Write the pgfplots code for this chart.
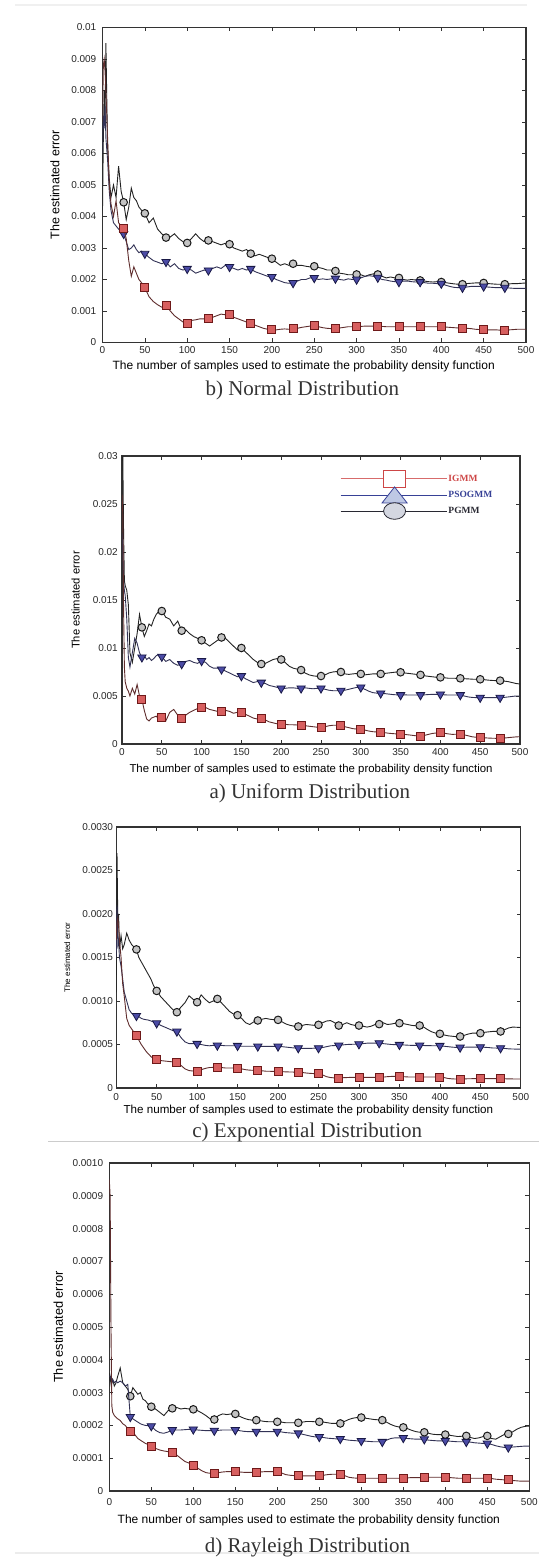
\documentclass[border=0pt]{standalone}
\usepackage{pgfplots}
\pgfplotsset{compat=1.18}
\usepackage{pgfplotstable}
\usepackage{fontspec}
\setmainfont{Liberation Serif}
\setsansfont{Liberation Sans}

\definecolor{igline}{RGB}{95,45,45}
\definecolor{igfill}{RGB}{215,95,95}
\definecolor{igedge}{RGB}{110,25,25}
\definecolor{psoline}{RGB}{50,50,85}
\definecolor{psofill}{RGB}{75,75,165}
\definecolor{psoedge}{RGB}{25,25,70}
\definecolor{pgline}{RGB}{35,35,35}
\definecolor{pgfill}{RGB}{195,195,195}
\definecolor{pgedge}{RGB}{25,25,25}
\definecolor{lgred}{RGB}{205,70,70}
\definecolor{lgblue}{RGB}{55,65,150}
\definecolor{lgblack}{RGB}{40,40,50}

\pgfplotstableread{
x pg pso ig
0 4.2e-3 6.0e-3 7.0e-3
1 6.5e-3 7.2e-3 8.8e-3
2 8.0e-3 6.8e-3 9.0e-3
3 7.0e-3 7.5e-3 8.6e-3
4 9.5e-3 6.5e-3 8.0e-3
6 6.2e-3 5.8e-3 6.5e-3
8 5.2e-3 4.8e-3 5.0e-3
10 4.6e-3 4.2e-3 4.4e-3
13 5.0e-3 3.8e-3 4.0e-3
16 4.6e-3 3.7e-3 4.5e-3
19 5.6e-3 3.6e-3 3.8e-3
22 4.8e-3 3.5e-3 3.7e-3
25 4.45e-3 3.45e-3 3.63e-3
28 3.9e-3 3.2e-3 3.3e-3
31 4.3e-3 2.95e-3 2.6e-3
34 4.9e-3 3.0e-3 2.1e-3
37 4.6e-3 3.1e-3 2.4e-3
40 4.5e-3 2.95e-3 2.2e-3
43 4.3e-3 2.85e-3 2.0e-3
46 4.2e-3 2.9e-3 1.9e-3
50 4.1e-3 2.82e-3 1.74e-3
55 3.8e-3 2.7e-3 1.45e-3
60 3.95e-3 2.6e-3 1.3e-3
65 3.6e-3 2.55e-3 1.2e-3
70 3.45e-3 2.5e-3 1.12e-3
75 3.33e-3 2.56e-3 1.18e-3
80 3.35e-3 2.4e-3 1.0e-3
85 3.45e-3 2.5e-3 0.85e-3
90 3.3e-3 2.35e-3 0.75e-3
95 3.2e-3 2.3e-3 0.65e-3
100 3.16e-3 2.34e-3 0.62e-3
105 3.3e-3 2.3e-3 0.7e-3
110 3.45e-3 2.2e-3 0.72e-3
115 3.3e-3 2.25e-3 0.75e-3
120 3.2e-3 2.3e-3 0.75e-3
125 3.24e-3 2.29e-3 0.76e-3
130 3.2e-3 2.35e-3 0.8e-3
135 3.15e-3 2.4e-3 0.85e-3
140 3.1e-3 2.35e-3 0.9e-3
145 3.15e-3 2.45e-3 0.88e-3
150 3.12e-3 2.40e-3 0.89e-3
155 3.0e-3 2.35e-3 0.8e-3
160 2.95e-3 2.3e-3 0.75e-3
165 2.9e-3 2.35e-3 0.7e-3
170 2.95e-3 2.3e-3 0.65e-3
175 2.82e-3 2.34e-3 0.62e-3
180 2.75e-3 2.25e-3 0.55e-3
185 2.8e-3 2.2e-3 0.5e-3
190 2.75e-3 2.15e-3 0.45e-3
195 2.7e-3 2.1e-3 0.42e-3
200 2.66e-3 2.08e-3 0.41e-3
205 2.55e-3 2.0e-3 0.4e-3
210 2.45e-3 1.95e-3 0.42e-3
215 2.5e-3 1.9e-3 0.43e-3
220 2.45e-3 1.88e-3 0.42e-3
225 2.50e-3 1.89e-3 0.44e-3
230 2.45e-3 1.95e-3 0.45e-3
235 2.45e-3 2.0e-3 0.48e-3
240 2.42e-3 2.0e-3 0.5e-3
245 2.4e-3 2.05e-3 0.52e-3
250 2.42e-3 2.05e-3 0.55e-3
255 2.38e-3 2.0e-3 0.5e-3
260 2.35e-3 2.02e-3 0.47e-3
265 2.3e-3 2.0e-3 0.45e-3
270 2.3e-3 2.02e-3 0.44e-3
275 2.27e-3 2.03e-3 0.44e-3
280 2.2e-3 2.0e-3 0.46e-3
285 2.18e-3 1.98e-3 0.48e-3
290 2.15e-3 2.02e-3 0.5e-3
295 2.15e-3 2.0e-3 0.5e-3
300 2.16e-3 2.0e-3 0.50e-3
305 2.15e-3 2.05e-3 0.51e-3
310 2.1e-3 2.1e-3 0.52e-3
315 2.15e-3 2.12e-3 0.52e-3
320 2.18e-3 2.1e-3 0.52e-3
325 2.16e-3 2.06e-3 0.52e-3
330 2.1e-3 2.0e-3 0.51e-3
335 2.05e-3 1.98e-3 0.5e-3
340 2.08e-3 1.95e-3 0.5e-3
345 2.05e-3 1.93e-3 0.5e-3
350 2.05e-3 1.92e-3 0.50e-3
355 2.0e-3 1.95e-3 0.5e-3
360 1.98e-3 1.95e-3 0.5e-3
365 2.0e-3 1.93e-3 0.5e-3
370 1.98e-3 1.92e-3 0.5e-3
375 1.97e-3 1.92e-3 0.50e-3
380 1.95e-3 1.9e-3 0.5e-3
385 1.93e-3 1.88e-3 0.5e-3
390 1.92e-3 1.88e-3 0.5e-3
395 1.93e-3 1.87e-3 0.5e-3
400 1.92e-3 1.87e-3 0.50e-3
405 1.9e-3 1.82e-3 0.49e-3
410 1.88e-3 1.78e-3 0.48e-3
415 1.86e-3 1.75e-3 0.47e-3
420 1.85e-3 1.74e-3 0.46e-3
425 1.85e-3 1.74e-3 0.46e-3
430 1.87e-3 1.76e-3 0.45e-3
435 1.88e-3 1.78e-3 0.44e-3
440 1.89e-3 1.78e-3 0.42e-3
445 1.89e-3 1.78e-3 0.41e-3
450 1.89e-3 1.78e-3 0.41e-3
455 1.87e-3 1.76e-3 0.4e-3
460 1.86e-3 1.75e-3 0.4e-3
465 1.85e-3 1.74e-3 0.4e-3
470 1.85e-3 1.74e-3 0.39e-3
475 1.85e-3 1.74e-3 0.39e-3
480 1.86e-3 1.73e-3 0.4e-3
485 1.87e-3 1.72e-3 0.41e-3
490 1.87e-3 1.72e-3 0.42e-3
495 1.88e-3 1.72e-3 0.42e-3
500 1.89e-3 1.72e-3 0.42e-3
}\tNormal

\pgfplotstableread{
x pg pso ig
0 29.5e-3 22.0e-3 26.0e-3
1 30.0e-3 20.0e-3 24.0e-3
2 22.0e-3 17.0e-3 14.0e-3
3 17.0e-3 16.0e-3 8.0e-3
4 16.5e-3 15.5e-3 6.5e-3
6 16.0e-3 13.0e-3 5.8e-3
8 14.5e-3 9.0e-3 5.5e-3
10 9.5e-3 8.0e-3 5.0e-3
13 8.5e-3 9.5e-3 5.8e-3
16 10.0e-3 11.0e-3 5.2e-3
19 11.5e-3 10.5e-3 6.2e-3
22 13.5e-3 9.5e-3 5.0e-3
25 12.15e-3 9.03e-3 4.65e-3
28 11.2e-3 9.2e-3 3.5e-3
31 11.8e-3 8.8e-3 2.6e-3
34 12.5e-3 9.0e-3 2.4e-3
37 12.3e-3 8.7e-3 2.7e-3
40 13.0e-3 8.9e-3 2.8e-3
43 13.5e-3 9.2e-3 2.9e-3
46 13.8e-3 9.3e-3 2.6e-3
50 13.85e-3 9.1e-3 2.78e-3
55 13.2e-3 8.6e-3 2.4e-3
60 13.0e-3 8.8e-3 3.3e-3
65 12.3e-3 8.4e-3 3.6e-3
70 12.8e-3 8.2e-3 3.0e-3
75 11.8e-3 8.33e-3 2.67e-3
80 11.9e-3 8.6e-3 3.0e-3
85 11.5e-3 8.7e-3 3.3e-3
90 11.2e-3 8.5e-3 3.5e-3
95 11.0e-3 8.4e-3 3.7e-3
100 10.8e-3 8.65e-3 3.82e-3
105 10.5e-3 8.5e-3 3.8e-3
110 10.2e-3 8.1e-3 3.6e-3
115 10.5e-3 7.9e-3 3.5e-3
120 10.8e-3 7.9e-3 3.4e-3
125 11.1e-3 7.78e-3 3.44e-3
130 11.0e-3 7.6e-3 3.5e-3
135 10.6e-3 7.4e-3 3.4e-3
140 10.2e-3 7.2e-3 3.2e-3
145 9.8e-3 7.0e-3 3.3e-3
150 10.0e-3 7.08e-3 3.26e-3
155 9.6e-3 6.8e-3 3.1e-3
160 9.2e-3 6.6e-3 2.9e-3
165 8.8e-3 6.4e-3 2.7e-3
170 8.5e-3 6.5e-3 2.6e-3
175 8.33e-3 6.4e-3 2.67e-3
180 8.4e-3 6.3e-3 2.5e-3
185 8.6e-3 6.1e-3 2.3e-3
190 8.8e-3 6.0e-3 2.2e-3
195 8.9e-3 5.9e-3 2.1e-3
200 8.8e-3 5.8e-3 2.08e-3
205 8.5e-3 5.8e-3 2.05e-3
210 8.1e-3 5.85e-3 2.0e-3
215 7.9e-3 5.85e-3 2.0e-3
220 7.8e-3 5.8e-3 1.98e-3
225 7.7e-3 5.8e-3 1.98e-3
230 7.4e-3 5.85e-3 1.9e-3
235 7.2e-3 5.8e-3 1.85e-3
240 7.1e-3 5.75e-3 1.8e-3
245 7.05e-3 5.8e-3 1.75e-3
250 7.08e-3 5.8e-3 1.74e-3
255 7.2e-3 5.7e-3 1.8e-3
260 7.4e-3 5.6e-3 1.9e-3
265 7.5e-3 5.55e-3 1.95e-3
270 7.55e-3 5.55e-3 1.95e-3
275 7.5e-3 5.56e-3 1.91e-3
280 7.3e-3 5.6e-3 1.8e-3
285 7.25e-3 5.7e-3 1.7e-3
290 7.3e-3 5.8e-3 1.6e-3
295 7.35e-3 5.9e-3 1.55e-3
300 7.3e-3 5.9e-3 1.53e-3
305 7.2e-3 5.7e-3 1.45e-3
310 7.25e-3 5.5e-3 1.35e-3
315 7.3e-3 5.35e-3 1.28e-3
320 7.3e-3 5.3e-3 1.25e-3
325 7.3e-3 5.28e-3 1.22e-3
330 7.35e-3 5.25e-3 1.18e-3
335 7.4e-3 5.2e-3 1.12e-3
340 7.45e-3 5.15e-3 1.08e-3
345 7.5e-3 5.12e-3 1.05e-3
350 7.47e-3 5.1e-3 1.04e-3
355 7.4e-3 5.12e-3 1.0e-3
360 7.35e-3 5.1e-3 0.95e-3
365 7.3e-3 5.1e-3 0.9e-3
370 7.25e-3 5.1e-3 0.85e-3
375 7.2e-3 5.1e-3 0.83e-3
380 7.1e-3 5.12e-3 0.9e-3
385 7.05e-3 5.15e-3 1.0e-3
390 7.0e-3 5.17e-3 1.1e-3
395 6.95e-3 5.17e-3 1.15e-3
400 6.94e-3 5.17e-3 1.18e-3
405 6.9e-3 5.12e-3 1.12e-3
410 6.85e-3 5.1e-3 1.05e-3
415 6.85e-3 5.1e-3 1.0e-3
420 6.84e-3 5.1e-3 1.02e-3
425 6.84e-3 5.1e-3 1.04e-3
430 6.8e-3 5.0e-3 0.95e-3
435 6.78e-3 4.9e-3 0.85e-3
440 6.75e-3 4.85e-3 0.75e-3
445 6.74e-3 4.83e-3 0.7e-3
450 6.74e-3 4.83e-3 0.69e-3
455 6.7e-3 4.83e-3 0.65e-3
460 6.65e-3 4.83e-3 0.62e-3
465 6.62e-3 4.83e-3 0.6e-3
470 6.6e-3 4.83e-3 0.59e-3
475 6.6e-3 4.83e-3 0.59e-3
480 6.55e-3 4.85e-3 0.62e-3
485 6.5e-3 4.9e-3 0.66e-3
490 6.4e-3 4.95e-3 0.7e-3
495 6.3e-3 5.0e-3 0.74e-3
500 6.25e-3 5.0e-3 0.76e-3
}\tUniform

\pgfplotstableread{
x pg pso ig
0 11.0e-4 15.0e-4 17.0e-4
1 27.0e-4 21.0e-4 19.0e-4
2 19.0e-4 16.5e-4 19.5e-4
3 20.0e-4 17.0e-4 18.5e-4
4 16.0e-4 15.0e-4 17.0e-4
6 17.5e-4 14.0e-4 15.0e-4
8 16.0e-4 12.5e-4 12.0e-4
10 16.5e-4 11.0e-4 10.5e-4
13 17.8e-4 10.0e-4 8.0e-4
16 17.0e-4 9.0e-4 7.2e-4
19 16.5e-4 8.6e-4 6.8e-4
22 16.2e-4 8.4e-4 6.4e-4
25 15.93e-4 8.29e-4 6.04e-4
28 15.0e-4 8.2e-4 5.5e-4
31 14.5e-4 8.0e-4 5.0e-4
34 14.0e-4 7.9e-4 4.6e-4
37 13.5e-4 7.85e-4 4.2e-4
40 13.0e-4 7.8e-4 3.9e-4
43 12.5e-4 7.7e-4 3.6e-4
46 11.8e-4 7.6e-4 3.4e-4
50 11.16e-4 7.45e-4 3.25e-4
55 10.5e-4 7.2e-4 3.15e-4
60 10.0e-4 7.0e-4 3.1e-4
65 9.5e-4 6.8e-4 3.05e-4
70 9.0e-4 6.6e-4 3.0e-4
75 8.71e-4 6.5e-4 2.98e-4
80 9.3e-4 5.8e-4 2.6e-4
85 9.8e-4 5.3e-4 2.2e-4
90 10.6e-4 5.1e-4 2.0e-4
95 10.2e-4 5.1e-4 1.95e-4
100 9.86e-4 5.08e-4 1.91e-4
105 10.7e-4 5.0e-4 2.1e-4
110 10.2e-4 4.9e-4 2.25e-4
115 9.8e-4 4.85e-4 2.35e-4
120 10.0e-4 4.9e-4 2.37e-4
125 10.24e-4 4.89e-4 2.37e-4
130 9.8e-4 4.9e-4 2.35e-4
135 9.3e-4 4.85e-4 2.3e-4
140 8.8e-4 4.85e-4 2.3e-4
145 8.5e-4 4.85e-4 2.3e-4
150 8.37e-4 4.85e-4 2.29e-4
155 8.0e-4 4.8e-4 2.2e-4
160 7.5e-4 4.8e-4 2.1e-4
165 7.3e-4 4.8e-4 2.05e-4
170 7.6e-4 4.8e-4 2.03e-4
175 7.76e-4 4.78e-4 2.03e-4
180 7.9e-4 4.78e-4 1.98e-4
185 8.0e-4 4.78e-4 1.93e-4
190 7.9e-4 4.78e-4 1.92e-4
195 7.85e-4 4.78e-4 1.91e-4
200 7.83e-4 4.78e-4 1.91e-4
205 7.6e-4 4.75e-4 1.88e-4
210 7.35e-4 4.7e-4 1.85e-4
215 7.2e-4 4.65e-4 1.84e-4
220 7.1e-4 4.6e-4 1.83e-4
225 7.07e-4 4.59e-4 1.83e-4
230 7.2e-4 4.55e-4 1.78e-4
235 7.3e-4 4.55e-4 1.72e-4
240 7.25e-4 4.55e-4 1.68e-4
245 7.2e-4 4.58e-4 1.65e-4
250 7.26e-4 4.59e-4 1.64e-4
255 7.5e-4 4.65e-4 1.5e-4
260 7.7e-4 4.75e-4 1.3e-4
265 7.75e-4 4.85e-4 1.2e-4
270 7.5e-4 4.88e-4 1.16e-4
275 7.18e-4 4.89e-4 1.15e-4
280 7.3e-4 4.95e-4 1.18e-4
285 7.5e-4 5.0e-4 1.2e-4
290 7.3e-4 5.02e-4 1.22e-4
295 7.2e-4 5.03e-4 1.22e-4
300 7.18e-4 5.04e-4 1.22e-4
305 7.1e-4 5.1e-4 1.22e-4
310 7.0e-4 5.15e-4 1.22e-4
315 7.1e-4 5.16e-4 1.22e-4
320 7.3e-4 5.16e-4 1.22e-4
325 7.34e-4 5.16e-4 1.22e-4
330 7.5e-4 5.1e-4 1.25e-4
335 7.3e-4 5.05e-4 1.3e-4
340 7.35e-4 5.0e-4 1.33e-4
345 7.45e-4 4.98e-4 1.34e-4
350 7.45e-4 4.97e-4 1.34e-4
355 7.4e-4 4.95e-4 1.3e-4
360 7.3e-4 4.92e-4 1.27e-4
365 7.2e-4 4.9e-4 1.26e-4
370 7.15e-4 4.9e-4 1.26e-4
375 7.18e-4 4.89e-4 1.26e-4
380 7.0e-4 4.88e-4 1.26e-4
385 6.7e-4 4.87e-4 1.26e-4
390 6.45e-4 4.86e-4 1.26e-4
395 6.3e-4 4.85e-4 1.26e-4
400 6.23e-4 4.85e-4 1.26e-4
405 6.1e-4 4.8e-4 1.2e-4
410 6.0e-4 4.75e-4 1.1e-4
415 5.95e-4 4.7e-4 1.05e-4
420 5.9e-4 4.66e-4 1.03e-4
425 5.92e-4 4.66e-4 1.03e-4
430 6.05e-4 4.68e-4 1.05e-4
435 6.2e-4 4.7e-4 1.06e-4
440 6.3e-4 4.7e-4 1.07e-4
445 6.3e-4 4.7e-4 1.07e-4
450 6.3e-4 4.7e-4 1.07e-4
455 6.4e-4 4.68e-4 1.07e-4
460 6.45e-4 4.65e-4 1.07e-4
465 6.5e-4 4.6e-4 1.07e-4
470 6.5e-4 4.59e-4 1.07e-4
475 6.5e-4 4.59e-4 1.07e-4
480 6.7e-4 4.55e-4 1.06e-4
485 6.9e-4 4.5e-4 1.05e-4
490 7.0e-4 4.48e-4 1.04e-4
495 6.98e-4 4.47e-4 1.03e-4
500 6.95e-4 4.47e-4 1.03e-4
}\tExpo

\pgfplotstableread{
x pg pso ig
0 3.6e-4 3.5e-4 9.5e-4
1 3.3e-4 3.5e-4 9.0e-4
2 3.5e-4 3.4e-4 5.0e-4
3 3.3e-4 3.3e-4 2.6e-4
4 3.4e-4 3.4e-4 2.4e-4
6 3.2e-4 3.3e-4 2.3e-4
8 3.3e-4 3.35e-4 2.25e-4
10 3.5e-4 3.3e-4 2.2e-4
13 3.75e-4 3.35e-4 2.15e-4
16 3.3e-4 3.3e-4 2.05e-4
19 3.2e-4 3.2e-4 2.0e-4
22 3.1e-4 3.25e-4 1.9e-4
25 2.89e-4 2.26e-4 1.83e-4
28 3.15e-4 2.2e-4 1.78e-4
31 3.05e-4 2.15e-4 1.7e-4
34 2.95e-4 2.1e-4 1.6e-4
37 3.0e-4 2.05e-4 1.55e-4
40 2.8e-4 2.02e-4 1.5e-4
43 2.75e-4 2.0e-4 1.45e-4
46 2.65e-4 1.99e-4 1.42e-4
50 2.57e-4 1.98e-4 1.37e-4
55 2.5e-4 1.85e-4 1.3e-4
60 2.4e-4 1.78e-4 1.25e-4
65 2.3e-4 1.76e-4 1.22e-4
70 2.45e-4 1.8e-4 1.2e-4
75 2.52e-4 1.86e-4 1.17e-4
80 2.55e-4 1.86e-4 1.1e-4
85 2.5e-4 1.86e-4 1.0e-4
90 2.52e-4 1.87e-4 0.9e-4
95 2.5e-4 1.88e-4 0.85e-4
100 2.49e-4 1.88e-4 0.79e-4
105 2.45e-4 1.86e-4 0.7e-4
110 2.38e-4 1.85e-4 0.62e-4
115 2.3e-4 1.84e-4 0.56e-4
120 2.2e-4 1.84e-4 0.54e-4
125 2.18e-4 1.84e-4 0.54e-4
130 2.3e-4 1.85e-4 0.56e-4
135 2.35e-4 1.86e-4 0.58e-4
140 2.33e-4 1.86e-4 0.59e-4
145 2.35e-4 1.86e-4 0.59e-4
150 2.35e-4 1.86e-4 0.59e-4
155 2.28e-4 1.84e-4 0.58e-4
160 2.22e-4 1.82e-4 0.57e-4
165 2.18e-4 1.81e-4 0.57e-4
170 2.16e-4 1.81e-4 0.57e-4
175 2.16e-4 1.81e-4 0.57e-4
180 2.14e-4 1.81e-4 0.58e-4
185 2.12e-4 1.81e-4 0.59e-4
190 2.11e-4 1.81e-4 0.59e-4
195 2.11e-4 1.81e-4 0.59e-4
200 2.11e-4 1.81e-4 0.59e-4
205 2.1e-4 1.8e-4 0.55e-4
210 2.08e-4 1.78e-4 0.5e-4
215 2.08e-4 1.77e-4 0.48e-4
220 2.08e-4 1.76e-4 0.47e-4
225 2.08e-4 1.76e-4 0.47e-4
230 2.1e-4 1.73e-4 0.46e-4
235 2.12e-4 1.7e-4 0.46e-4
240 2.12e-4 1.67e-4 0.46e-4
245 2.11e-4 1.65e-4 0.46e-4
250 2.11e-4 1.65e-4 0.46e-4
255 2.1e-4 1.63e-4 0.48e-4
260 2.08e-4 1.61e-4 0.5e-4
265 2.06e-4 1.6e-4 0.51e-4
270 2.06e-4 1.59e-4 0.51e-4
275 2.06e-4 1.59e-4 0.51e-4
280 2.12e-4 1.57e-4 0.47e-4
285 2.18e-4 1.55e-4 0.42e-4
290 2.22e-4 1.54e-4 0.4e-4
295 2.24e-4 1.53e-4 0.39e-4
300 2.24e-4 1.53e-4 0.39e-4
305 2.22e-4 1.52e-4 0.39e-4
310 2.2e-4 1.51e-4 0.39e-4
315 2.18e-4 1.5e-4 0.39e-4
320 2.17e-4 1.5e-4 0.39e-4
325 2.16e-4 1.5e-4 0.39e-4
330 2.1e-4 1.55e-4 0.39e-4
335 2.03e-4 1.6e-4 0.39e-4
340 1.98e-4 1.62e-4 0.39e-4
345 1.95e-4 1.62e-4 0.39e-4
350 1.94e-4 1.62e-4 0.39e-4
355 1.9e-4 1.6e-4 0.4e-4
360 1.85e-4 1.59e-4 0.41e-4
365 1.81e-4 1.58e-4 0.41e-4
370 1.79e-4 1.58e-4 0.41e-4
375 1.79e-4 1.58e-4 0.41e-4
380 1.76e-4 1.55e-4 0.42e-4
385 1.73e-4 1.54e-4 0.42e-4
390 1.72e-4 1.53e-4 0.42e-4
395 1.72e-4 1.53e-4 0.42e-4
400 1.72e-4 1.53e-4 0.42e-4
405 1.7e-4 1.52e-4 0.41e-4
410 1.68e-4 1.51e-4 0.4e-4
415 1.66e-4 1.5e-4 0.39e-4
420 1.67e-4 1.5e-4 0.39e-4
425 1.68e-4 1.5e-4 0.39e-4
430 1.63e-4 1.49e-4 0.39e-4
435 1.6e-4 1.47e-4 0.39e-4
440 1.62e-4 1.46e-4 0.39e-4
445 1.66e-4 1.45e-4 0.39e-4
450 1.68e-4 1.45e-4 0.39e-4
455 1.6e-4 1.42e-4 0.38e-4
460 1.58e-4 1.38e-4 0.36e-4
465 1.65e-4 1.35e-4 0.35e-4
470 1.72e-4 1.33e-4 0.34e-4
475 1.74e-4 1.33e-4 0.34e-4
480 1.8e-4 1.34e-4 0.32e-4
485 1.88e-4 1.35e-4 0.31e-4
490 1.94e-4 1.36e-4 0.3e-4
495 1.97e-4 1.37e-4 0.3e-4
500 1.98e-4 1.37e-4 0.3e-4
}\tRayleigh

\pgfplotsset{
  panel/.style={
    scale only axis, xmin=0, xmax=500, ymin=0,
    scaled y ticks=false, scaled x ticks=false,
    xtick={0,50,100,150,200,250,300,350,400,450,500},
    xticklabels={0,50,100,150,200,250,300,350,400,450,500},
    tick align=inside, major tick length=4pt,
    axis line style={black!80, line width=1.1pt},
    tick style={black!80, line width=0.7pt},
    tick label style={font=\sffamily\fontsize{10}{12}\selectfont, inner sep=0pt, text=black!85},
    xticklabel style={anchor=center},
    yticklabel style={anchor=east},
    xlabel={The number of samples used to estimate the probability density function},
    ylabel={The estimated error},
    clip mode=individual,
  },
  mk/.style={mark indices={13,21,26,31,36,41,46,51,56,61,66,71,76,81,86,91,96,101,106}},
  PG/.style={mk, color=pgline, line width=0.9pt, mark=*, mark size=3.8pt, mark options={fill=pgfill, draw=pgedge, line width=1pt}},
  PSO/.style={mk, color=psoline, line width=0.9pt, mark=triangle*, mark size=4.8pt, mark options={rotate=180, fill=psofill, draw=psoedge, line width=0.8pt}},
  IG/.style={mk, color=igline, line width=0.9pt, mark=square*, mark size=4pt, mark options={fill=igfill, draw=igedge, line width=0.9pt}},
}
\tikzset{captxt/.style={font=\rmfamily\fontsize{21}{24}\selectfont, text=black!80}}

\begin{document}
\begin{tikzpicture}
\useasboundingbox (0pt,0pt) rectangle (539pt,1557pt);
\draw[gray!12, line width=1.5pt] (15pt,1552pt) -- (527pt,1552pt);
\draw[gray!40, line width=1pt] (48pt,415pt) -- (539pt,415pt);
\draw[gray!15, line width=1.5pt] (15pt,4pt) -- (539pt,4pt);

% b) Normal
\begin{axis}[panel, at={(102.5pt,1214.5pt)}, anchor=south west, width=423.5pt, height=315pt,
  ymax=0.01,
  ytick={0,0.001,0.002,0.003,0.004,0.005,0.006,0.007,0.008,0.009,0.01},
  yticklabels={0,0.001,0.002,0.003,0.004,0.005,0.006,0.007,0.008,0.009,0.01},
  xticklabel style={yshift=-7.5pt}, yticklabel style={xshift=-6pt},
  xlabel style={at={(axis description cs:0.475,-0.0746)}, anchor=center, inner sep=0pt, font=\sffamily\fontsize{12}{14}\selectfont},
  ylabel style={at={(axis description cs:-0.1122,0.5)}, anchor=center, inner sep=0pt, font=\sffamily\fontsize{12.5}{14}\selectfont}]
\addplot[PG] table[x=x,y=pg]{\tNormal};
\addplot[PSO] table[x=x,y=pso]{\tNormal};
\addplot[IG] table[x=x,y=ig]{\tNormal};
\node[captxt] at (axis description cs:0.472,-0.151) {b) Normal Distribution};
\end{axis}

% a) Uniform
\begin{axis}[panel, at={(122pt,813pt)}, anchor=south west, width=398pt, height=288pt,
  ymax=0.03,
  ytick={0,0.005,0.01,0.015,0.02,0.025,0.03},
  yticklabels={0,0.005,0.01,0.015,0.02,0.025,0.03},
  xticklabel style={yshift=-8pt}, yticklabel style={xshift=-4pt},
  xlabel style={at={(axis description cs:0.475,-0.0903)}, anchor=center, inner sep=0pt, font=\sffamily\fontsize{11.4}{13}\selectfont},
  ylabel style={at={(axis description cs:-0.1166,0.5)}, anchor=center, inner sep=0pt, font=\sffamily\fontsize{11.2}{13}\selectfont},
  legend style={at={(0.5477,0.953)}, anchor=north west, draw=none, fill=none, inner sep=0pt, row sep=-1pt, column sep=1pt,
    font=\rmfamily\bfseries\fontsize{9.5}{10}\selectfont, nodes={inner sep=0.5pt}},
  legend cell align=left]
\addlegendimage{legend image code/.code={
  \draw[lgred!80, line width=0.8pt] (0pt,0pt) -- (106pt,0pt);
  \draw[lgred, fill=white, line width=0.8pt] (43pt,-8.5pt) rectangle (65pt,8.5pt);}}
\addlegendentry[text=lgred]{IGMM}
\addlegendimage{legend image code/.code={
  \draw[lgblue, line width=0.8pt] (0pt,0pt) -- (106pt,0pt);
  \draw[lgblue, fill={rgb,255:red,190;green,200;blue,228}, line width=0.8pt] (41.5pt,-8pt) -- (66.5pt,-8pt) -- (54pt,8pt) -- cycle;}}
\addlegendentry[text=lgblue]{PSOGMM}
\addlegendimage{legend image code/.code={
  \draw[lgblack, line width=0.8pt] (0pt,0pt) -- (106pt,0pt);
  \draw[lgblack, fill={rgb,255:red,212;green,215;blue,225}, line width=0.8pt] (54pt,0pt) ellipse [x radius=11pt, y radius=8.3pt];}}
\addlegendentry[text=lgblack]{PGMM}
\addplot[PG, forget plot] table[x=x,y=pg]{\tUniform};
\addplot[PSO, forget plot] table[x=x,y=pso]{\tUniform};
\addplot[IG, forget plot] table[x=x,y=ig]{\tUniform};
\node[captxt] at (axis description cs:0.472,-0.170) {a) Uniform Distribution};
\end{axis}

% c) Exponential
\begin{axis}[panel, at={(116.2pt,469pt)}, anchor=south west, width=404.6pt, height=261pt,
  ymax=0.003,
  ytick={0,0.0005,0.001,0.0015,0.002,0.0025,0.003},
  yticklabels={0,0.0005,0.0010,0.0015,0.0020,0.0025,0.0030},
  xticklabel style={yshift=-9pt}, yticklabel style={xshift=-3pt},
  xlabel style={at={(axis description cs:0.475,-0.0881)}, anchor=center, inner sep=0pt, font=\sffamily\fontsize{11.6}{13}\selectfont},
  ylabel style={at={(axis description cs:-0.1211,0.5)}, anchor=center, inner sep=0pt, font=\sffamily\fontsize{8}{10}\selectfont}]
\addplot[PG] table[x=x,y=pg]{\tExpo};
\addplot[PSO] table[x=x,y=pso]{\tExpo};
\addplot[IG] table[x=x,y=ig]{\tExpo};
\node[captxt] at (axis description cs:0.472,-0.172) {c) Exponential Distribution};
\end{axis}

% d) Rayleigh
\begin{axis}[panel, at={(109.3pt,66pt)}, anchor=south west, width=420pt, height=328pt,
  ymax=0.001,
  ytick={0,0.0001,0.0002,0.0003,0.0004,0.0005,0.0006,0.0007,0.0008,0.0009,0.001},
  yticklabels={0,0.0001,0.0002,0.0003,0.0004,0.0005,0.0006,0.0007,0.0008,0.0009,0.0010},
  xticklabel style={yshift=-11pt}, yticklabel style={xshift=-6pt},
  xlabel style={at={(axis description cs:0.475,-0.0884)}, anchor=center, inner sep=0pt, font=\sffamily\fontsize{12}{14}\selectfont},
  ylabel style={at={(axis description cs:-0.1214,0.5)}, anchor=center, inner sep=0pt, font=\sffamily\fontsize{12.8}{14}\selectfont}]
\addplot[PG] table[x=x,y=pg]{\tRayleigh};
\addplot[PSO] table[x=x,y=pso]{\tRayleigh};
\addplot[IG] table[x=x,y=ig]{\tRayleigh};
\node[captxt] at (axis description cs:0.472,-0.171) {d) Rayleigh Distribution};
\end{axis}
\end{tikzpicture}
\end{document}
